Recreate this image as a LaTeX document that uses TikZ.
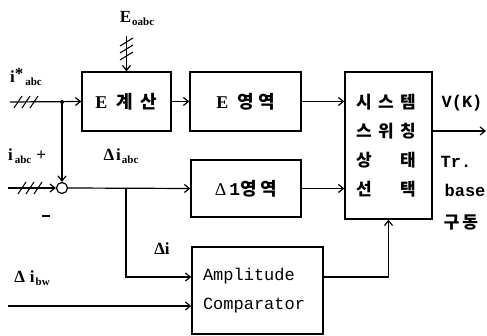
\documentclass[tikz,border=0pt]{standalone}
\usepackage{fontspec}
\setmainfont{Liberation Serif}
\newfontfamily\kr{Noto Sans CJK KR}
\newfontfamily\mono{Liberation Mono}
\usetikzlibrary{arrows.meta}
\newcommand{\kc}[1]{\makebox[22pt]{#1}}
\newcommand{\sbs}[1]{\raisebox{-3pt}{\fontsize{11}{11}\selectfont\bfseries #1}}
\begin{document}
\begin{tikzpicture}[x=1pt,y=-1pt,
  box/.style={draw,line width=1.3pt,inner sep=0pt},
  arr/.style={line width=1.2pt,-{Straight Barb[length=5pt,width=8pt,line width=1.2pt]}},
  hsh/.style={line width=1.1pt},
  lbl/.style={font=\fontsize{17}{19}\selectfont\bfseries,inner sep=0pt},
  mlbl/.style={font=\mono\fontsize{17}{19}\selectfont\bfseries,inner sep=0pt},
  kt/.style={font=\fontsize{17}{19}\selectfont\kr\bfseries,inner sep=0pt}]
\useasboundingbox (0,0) rectangle (487,336);

% blocks
\node[box,minimum width=89pt,minimum height=59pt] (ecalc) at (126.5,101.5)
  {\fontsize{18}{20}\selectfont\textbf{E}\hspace{9pt}{\kr\bfseries\fontsize{18}{20}\selectfont 계\hspace{8pt}산}};
\node[box,minimum width=111pt,minimum height=59pt] (earea) at (245.5,101.5)
  {\fontsize{18}{20}\selectfont\textbf{E}\hspace{9pt}{\kr\bfseries\fontsize{18}{20}\selectfont 영\hspace{4pt}역}};
\node[box,minimum width=110pt,minimum height=57pt] (darea) at (246,188.5)
  {\fontsize{18}{20}\selectfont Δ\hspace{3pt}{\mono\bfseries 1}{\kr\bfseries\fontsize{18}{20}\selectfont 영\hspace{4pt}역}};
\node[box,minimum width=131pt,minimum height=87pt,text width=109pt,align=left,
  font=\mono\fontsize{17}{29}\selectfont] (amp) at (257.5,290.5)
  {Amplitude\\Comparator};
\node[box,minimum width=87pt,minimum height=147pt] (sys) at (388.5,145.5) {};
\node[kt] (s1) at (386,102) {\kc{시}\kc{스}\kc{템}};
\node[kt] (s2) at (386,131) {\kc{스}\kc{위}\kc{칭}};
\node[kt] (s3) at (386,160) {\kc{상}\kc{}\kc{태}};
\node[kt] (s4) at (386,189) {\kc{선}\kc{}\kc{택}};

% points
\coordinate (in1) at (10,102);
\coordinate (j1) at (62,102);
\coordinate (in2) at (8,188);
\coordinate (j2) at (126,188);
\coordinate (in3) at (8,306);
\coordinate (eo) at (126.5,36);
\coordinate (out) at (486,131);
\node[circle,draw,line width=1.2pt,minimum size=11pt,inner sep=0pt] (sum) at (62,188) {};
\fill (j1) circle (2pt);

% connectors
\draw[arr] (in1) -- (ecalc.west);
\draw[arr] (j1) -- (sum.north);
\draw[arr] (in2) -- (sum.west);
\draw[arr] (sum.east) -- (darea.west);
\draw[arr] (j2) |- ([yshift=13.5pt]amp.west);
\draw[arr] (in3) -- ([yshift=-15.5pt]amp.west);
\draw[arr] (ecalc.east) -- (earea.west);
\draw[arr] (earea.east) -- (sys.west |- earea.east);
\draw[arr] (darea.east) -- (sys.west |- darea.east);
\draw[arr] ([yshift=13.5pt]amp.east) -| (sys.south);
\draw[arr] (sys.east |- out) -- (out);
\draw[arr] (eo) -- (ecalc.north);

% hash marks
\foreach \x in {18,26,34} \draw[hsh] (\x-4,108) -- (\x+4,96);
\foreach \x in {22,30,38} \draw[hsh] (\x-4,194) -- (\x+4,182);
\foreach \y in {42,49,56} \draw[hsh] (120,\y+4) -- (133,\y-4);

% labels
\node[lbl] (lE) at (137,18) {E\hspace{1pt}\sbs{oabc}};
\node[lbl] (l1) at (26,77) {i\raisebox{3pt}{*}\hspace{2pt}\sbs{abc}};
\node[lbl] (l2) at (27,156) {i\hspace{2pt}\sbs{abc}\hspace{5pt}+};
\node[lbl] (l3) at (121,156) {Δ\hspace{2pt}i\hspace{1pt}\sbs{abc}};
\node[lbl] (l4) at (46,216) {\rule{8pt}{1.6pt}};
\node[lbl] (l5) at (162,249) {Δi};
\node[lbl] (l6) at (32,278) {Δ\hspace{5pt}i\hspace{1pt}\sbs{bw}};
\node[mlbl] (l7) at (462,103) {V(K)};
\node[mlbl] (l8) at (456,162) {Tr.};
\node[mlbl] (l9) at (465,190) {base};
\node[kt] (l10) at (461,222) {구\hspace{3pt}동};
\end{tikzpicture}
\end{document}
